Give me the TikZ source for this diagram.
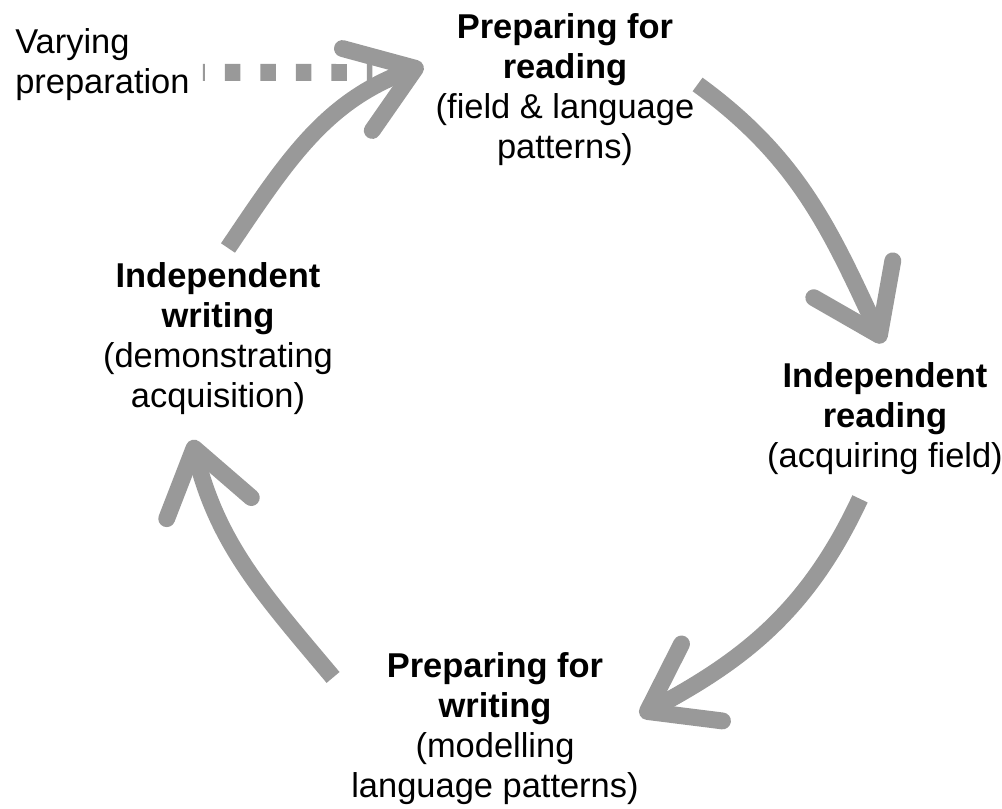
\documentclass[tikz,border=0pt]{standalone}
\usepackage{fontspec}
\setmainfont{Liberation Sans}
\usepackage{tikz}
\usetikzlibrary{arrows.meta,calc,positioning}

\begin{document}
\begin{tikzpicture}[x=0.025cm,y=0.025cm,
    stage/.style={align=center,inner sep=0pt,anchor=north,font=\fontsize{24.5}{28.5}\selectfont},
    cyclearrow/.style={line width=12pt,draw=black!40,-{Straight Barb[length=44pt,width=62pt,round]}},
    prepdash/.style={line width=12pt,draw=black!40,dash pattern=on 11pt off 14.25pt,dash phase=9.6pt}]
        \useasboundingbox (0,0) rectangle (1002,-809);
        %Stages
        \node[stage] (rdprep) at (565,-13) {\textbf{Preparing for}\\\textbf{reading}\\(field \& language\\patterns)};
        \node[stage] (indread) at (885,-362) {\textbf{Independent}\\\textbf{reading}\\(acquiring field)};
        \node[stage] (wrprep) at (495,-652) {\textbf{Preparing for}\\\textbf{writing}\\(modelling\\language patterns)};
        \node[stage] (indwrite) at (218,-262) {\textbf{Independent}\\\textbf{writing}\\(demonstrating\\acquisition)};
        \node[stage,align=left,anchor=north west] (vary) at (15,-28) {Varying\\preparation};
        %Cycle arrows
        \draw[cyclearrow] ([shift={(10,14)}]indwrite.north) to[out=56,in=200] ([shift={(-12,24)}]rdprep.west);
        \draw[cyclearrow] ([shift={(3,5)}]rdprep.east) to[out=-36,in=115] ([shift={(-2,19)}]indread.north);
        \draw[cyclearrow] ([shift={(-25,-24)}]indread.south) to[out=245,in=28] ([shift={(1,13)}]wrprep.east);
        \draw[cyclearrow] ([shift={(-18,51)}]wrprep.west) to[out=130,in=-76] ([shift={(-26,-25)}]indwrite.south);
        %Varying preparation
        \draw[prepdash] ([shift={(13,-8)}]vary.east) -- ([shift={(-63,17)}]rdprep.west);
      \end{tikzpicture}
\end{document}
